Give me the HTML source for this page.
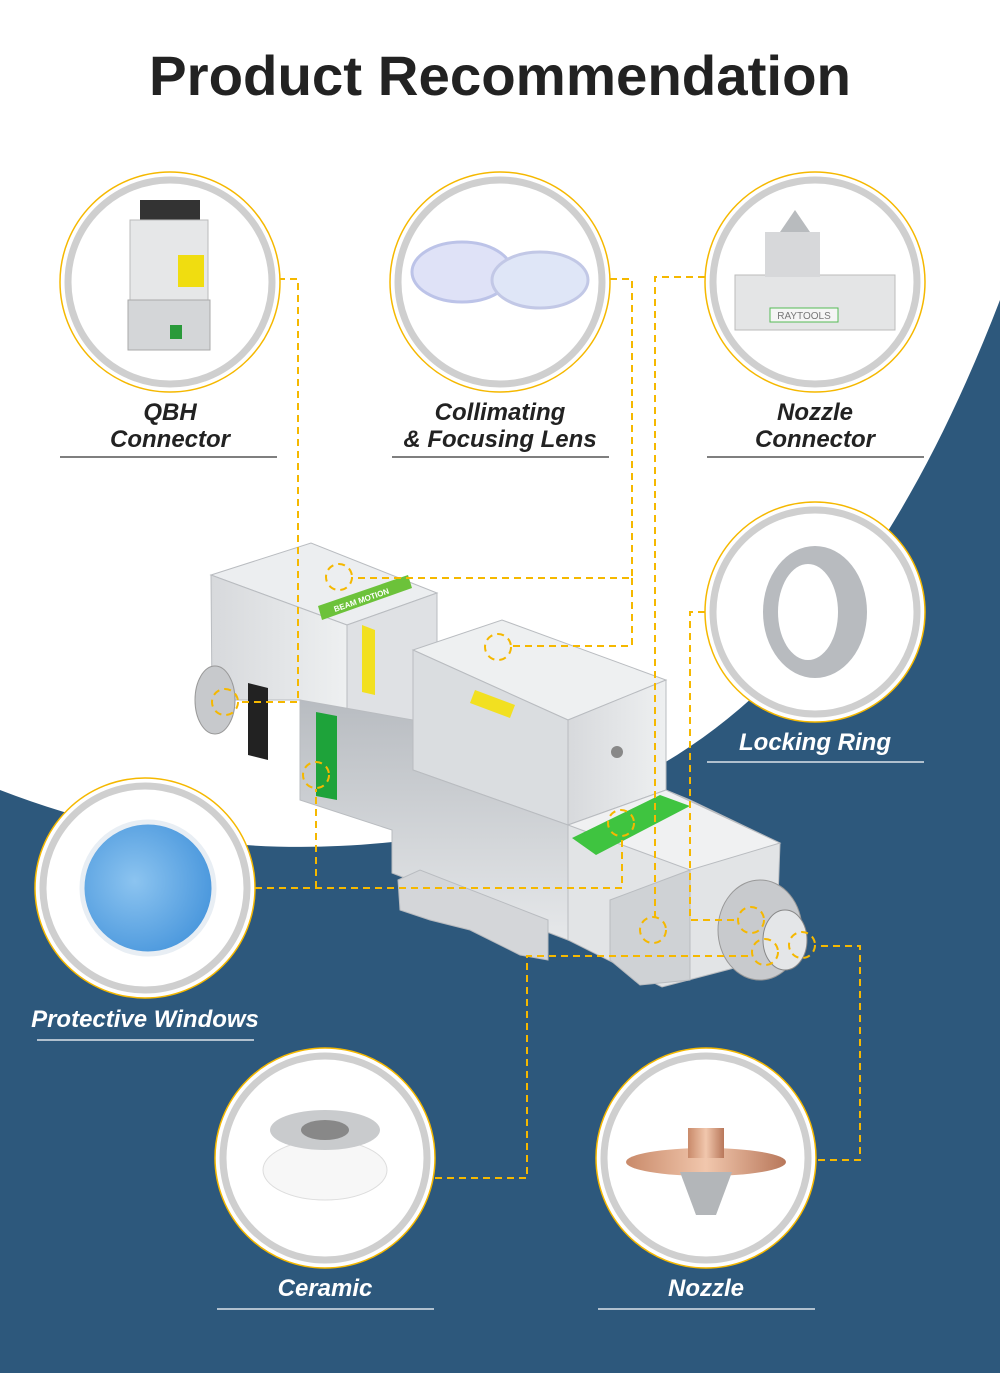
<!DOCTYPE html>
<html><head><meta charset="utf-8"><style>
body{margin:0;width:1000px;height:1373px;overflow:hidden;background:#fff;font-family:"Liberation Sans",sans-serif}
</style></head><body>
<svg width="1000" height="1373" viewBox="0 0 1000 1373" xmlns="http://www.w3.org/2000/svg">
<defs>
<linearGradient id="m2" x1="0" y1="0" x2="1" y2="0"><stop offset="0" stop-color="#d7d9dc"/><stop offset="1" stop-color="#eef0f1"/></linearGradient>
<linearGradient id="m3" x1="0" y1="0" x2="0" y2="1"><stop offset="0" stop-color="#b8bcc1"/><stop offset="1" stop-color="#e6e8ea"/></linearGradient>
<radialGradient id="blue" cx="0.4" cy="0.45" r="0.6"><stop offset="0" stop-color="#8cc4f0"/><stop offset="1" stop-color="#4b98dd"/></radialGradient>
<linearGradient id="cu" x1="0" y1="0" x2="1" y2="0"><stop offset="0" stop-color="#c98a6a"/><stop offset=".5" stop-color="#f1c7ad"/><stop offset="1" stop-color="#b8775a"/></linearGradient>
</defs>
<path d="M0,790 C150,848 330,872 550,812 C760,752 900,560 1000,300 L1000,1373 L0,1373 Z" fill="#2d587c"/>
<text x="500" y="95" text-anchor="middle" font-size="56" font-weight="bold" fill="#222" textLength="702" lengthAdjust="spacingAndGlyphs">Product Recommendation</text>

<!-- machine -->
<g stroke="#b9bcc0" stroke-width="1">
<polygon points="211,575 311,543 437,593 347,625" fill="#eceef0"/>
<polygon points="211,575 347,625 347,715 300,700 212,700" fill="url(#m2)"/>
<polygon points="347,625 437,593 437,650 413,650 413,720 347,715" fill="#dfe1e4"/>
<polygon points="413,650 502,620 666,680 568,720" fill="#eef0f1"/>
<polygon points="568,720 666,680 666,790 568,825" fill="url(#m2)"/>
<polygon points="413,650 568,720 568,825 413,770" fill="#dadde0"/>
<polygon points="300,700 413,720 413,770 568,825 568,940 392,873 392,830 300,800" fill="url(#m3)"/>
<polygon points="398,880 420,870 548,920 548,960 520,955 470,930 430,920 400,910" fill="#d4d6d9"/>
<polygon points="568,825 666,790 690,800 780,843 776,957 662,987 568,940" fill="#e2e4e6"/>
<polygon points="568,825 666,790 780,843 690,870" fill="#f0f1f2"/>
<polygon points="610,900 690,870 690,980 640,985 610,960" fill="#cfd2d5"/>
</g>
<polygon points="316,712 337,716 337,800 316,796" fill="#1ea33a"/>
<polygon points="572,838 660,795 690,806 596,855" fill="#3fc440"/>
<polygon points="318,606 408,575 412,588 322,620" fill="#6cc23a"/>
<text x="335" y="612" font-size="8" fill="#fff" transform="rotate(-19 335 612)" font-weight="bold">BEAM MOTION</text>
<polygon points="248,683 268,688 268,760 248,755" fill="#222"/>
<ellipse cx="215" cy="700" rx="20" ry="34" fill="#c7c9cc" stroke="#999"/>
<ellipse cx="760" cy="930" rx="42" ry="50" fill="#c8cacd" stroke="#999"/>
<ellipse cx="785" cy="940" rx="22" ry="30" fill="#e4e6e8" stroke="#888"/>
<polygon points="475,690 515,705 510,718 470,703" fill="#f2e020"/>
<polygon points="362,625 375,630 375,695 362,692" fill="#f2e020"/>
<circle cx="617" cy="752" r="6" fill="#888"/>

<!-- connectors -->
<g fill="none" stroke="#f5b800" stroke-width="2" stroke-dasharray="7,5">
<path d="M278,279 H298 V702 H240"/>
<path d="M610,279 H632 V578 H352"/>
<path d="M632,578 V646 H512"/>
<path d="M705,277 H655 V918"/>
<path d="M705,612 H690 V920 H738"/>
<path d="M255,888 H622 V837"/>
<path d="M316,888 V789"/>
<path d="M435,1178 H527 V956 H752"/>
<path d="M818,1160 H860 V946 H816"/>
<circle cx="225" cy="702" r="13"/><circle cx="339" cy="577" r="13"/><circle cx="498" cy="647" r="13"/>
<circle cx="316" cy="775" r="13"/><circle cx="621" cy="823" r="13"/><circle cx="653" cy="930" r="13"/>
<circle cx="751" cy="920" r="13"/><circle cx="765" cy="952" r="13"/><circle cx="802" cy="945" r="13"/>
</g>

<!-- circles -->
<g>
<circle cx="170" cy="282" r="110" fill="#fff" stroke="#f5b800" stroke-width="1.5"/><circle cx="170" cy="282" r="102" fill="#fff" stroke="#cfcfcf" stroke-width="7"/>
<circle cx="500" cy="282" r="110" fill="#fff" stroke="#f5b800" stroke-width="1.5"/><circle cx="500" cy="282" r="102" fill="#fff" stroke="#cfcfcf" stroke-width="7"/>
<circle cx="815" cy="282" r="110" fill="#fff" stroke="#f5b800" stroke-width="1.5"/><circle cx="815" cy="282" r="102" fill="#fff" stroke="#cfcfcf" stroke-width="7"/>
<circle cx="815" cy="612" r="110" fill="#fff" stroke="#f5b800" stroke-width="1.5"/><circle cx="815" cy="612" r="102" fill="#fff" stroke="#cfcfcf" stroke-width="7"/>
<circle cx="145" cy="888" r="110" fill="#fff" stroke="#f5b800" stroke-width="1.5"/><circle cx="145" cy="888" r="102" fill="#fff" stroke="#cfcfcf" stroke-width="7"/>
<circle cx="325" cy="1158" r="110" fill="#fff" stroke="#f5b800" stroke-width="1.5"/><circle cx="325" cy="1158" r="102" fill="#fff" stroke="#cfcfcf" stroke-width="7"/>
<circle cx="706" cy="1158" r="110" fill="#fff" stroke="#f5b800" stroke-width="1.5"/><circle cx="706" cy="1158" r="102" fill="#fff" stroke="#cfcfcf" stroke-width="7"/>
</g>
<!-- QBH -->
<rect x="140" y="200" width="60" height="20" fill="#333"/>
<rect x="130" y="220" width="78" height="80" fill="#e6e7e8" stroke="#bbb"/>
<rect x="178" y="255" width="26" height="32" fill="#f0dd10"/>
<rect x="128" y="300" width="82" height="50" fill="#d4d6d8" stroke="#aaa"/>
<rect x="170" y="325" width="12" height="14" fill="#2a9a3a"/>
<!-- lenses -->
<ellipse cx="462" cy="272" rx="50" ry="30" fill="#dfe2f7" stroke="#bcc3e8" stroke-width="3"/>
<ellipse cx="540" cy="280" rx="48" ry="28" fill="#dfe6f7" stroke="#c2c8e6" stroke-width="3"/>
<!-- nozzle connector -->
<rect x="735" y="275" width="160" height="55" fill="#e4e5e6" stroke="#bbb"/>
<rect x="765" y="232" width="55" height="45" fill="#d7d8da"/>
<polygon points="780,232 795,210 810,232" fill="#b8bbbe"/>
<rect x="770" y="308" width="68" height="14" fill="#f5f5f5" stroke="#5b5"/>
<text x="804" y="319" font-size="10" text-anchor="middle" fill="#777">RAYTOOLS</text>
<!-- locking ring -->
<ellipse cx="815" cy="612" rx="52" ry="66" fill="#b8bbbf"/>
<ellipse cx="808" cy="612" rx="30" ry="48" fill="#fff"/>
<!-- protective -->
<circle cx="148" cy="888" r="66" fill="url(#blue)" stroke="#e8eef4" stroke-width="5"/>
<!-- ceramic -->
<ellipse cx="325" cy="1170" rx="62" ry="30" fill="#f7f7f7" stroke="#ddd"/>
<ellipse cx="325" cy="1130" rx="55" ry="20" fill="#c9cbcd"/>
<ellipse cx="325" cy="1130" rx="24" ry="10" fill="#888"/>
<!-- nozzle -->
<ellipse cx="706" cy="1162" rx="80" ry="14" fill="url(#cu)"/>
<rect x="688" y="1128" width="36" height="30" fill="url(#cu)"/>
<polygon points="680,1172 732,1172 716,1215 696,1215" fill="#b3b6b9"/>

<!-- labels -->
<g font-style="italic" font-weight="bold" font-size="24" text-anchor="middle">
<text x="170" y="420" fill="#222">QBH</text><text x="170" y="447" fill="#222">Connector</text>
<text x="500" y="420" fill="#222">Collimating</text><text x="500" y="447" fill="#222">&amp; Focusing Lens</text>
<text x="815" y="420" fill="#222">Nozzle</text><text x="815" y="447" fill="#222">Connector</text>
<text x="815" y="750" fill="#fff">Locking Ring</text>
<text x="145" y="1027" fill="#fff">Protective Windows</text>
<text x="325" y="1296" fill="#fff">Ceramic</text>
<text x="706" y="1296" fill="#fff">Nozzle</text>
</g>
<g stroke-width="1.2">
<line x1="60" y1="457" x2="277" y2="457" stroke="#333"/>
<line x1="392" y1="457" x2="609" y2="457" stroke="#333"/>
<line x1="707" y1="457" x2="924" y2="457" stroke="#333"/>
<line x1="707" y1="762" x2="924" y2="762" stroke="#fff"/>
<line x1="37" y1="1040" x2="254" y2="1040" stroke="#fff"/>
<line x1="217" y1="1309" x2="434" y2="1309" stroke="#fff"/>
<line x1="598" y1="1309" x2="815" y2="1309" stroke="#fff"/>
</g>
</svg>
</body></html>
